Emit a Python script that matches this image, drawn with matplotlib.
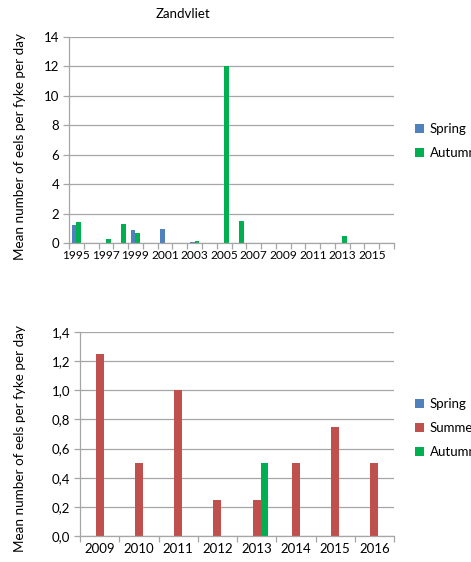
import matplotlib
matplotlib.use('Agg')
import matplotlib.pyplot as plt
import numpy as np
from matplotlib.ticker import FuncFormatter

# Zandvliet fyke catches, 1995-2016
years_top = list(range(1995, 2017))
spring_top = [1.2, 0, 0, 0, 0.9, 0, 0.95, 0, 0.1, 0, 0, 0, 0, 0, 0, 0, 0, 0, 0, 0, 0, 0]
autumn_top = [1.45, 0, 0.3, 1.3, 0.65, 0, 0, 0, 0.15, 0, 12.0, 1.5, 0, 0, 0, 0, 0, 0, 0.45, 0, 0, 0]

# second site, 2009-2016
years_bot = list(range(2009, 2017))
spring_bot = [0, 0, 0, 0, 0, 0, 0, 0]
summer_bot = [1.25, 0.5, 1.0, 0.25, 0.25, 0.5, 0.75, 0.5]
autumn_bot = [0, 0, 0, 0, 0.5, 0, 0, 0]

c_spring = '#4F81BD'
c_summer = '#C0504D'
c_autumn = '#00B050'
grid_c = '#A6A6A6'

plt.rcParams['font.family'] = ['Lato', 'DejaVu Sans']
plt.rcParams['font.size'] = 9

W, H = 471, 562
fig = plt.figure(figsize=(W / 100, H / 100), dpi=100)


def px_axes(left, top, right, bottom):
    return fig.add_axes([left / W, 1 - bottom / H, (right - left) / W, (bottom - top) / H])


def style(ax, ncat):
    for s in ['top', 'right']:
        ax.spines[s].set_visible(False)
    for s in ['left', 'bottom']:
        ax.spines[s].set_color(grid_c)
        ax.spines[s].set_linewidth(0.9)
    ax.set_axisbelow(True)
    ax.yaxis.grid(True, color=grid_c, linewidth=0.9)
    ax.set_xlim(-0.5, ncat - 0.5)
    ax.set_xticks(np.arange(-0.5, ncat, 1.0), minor=True)
    ax.tick_params(axis='x', which='minor', length=4, color=grid_c, width=0.9)
    ax.tick_params(axis='x', which='major', length=0, pad=5, labelcolor='black')
    ax.tick_params(axis='y', length=4, color=grid_c, width=0.9, labelcolor='black', pad=3)


# top chart
ax1 = px_axes(69, 37, 394, 243)
x = np.arange(len(years_top))
b = 0.33
ax1.bar(x - b / 2, spring_top, b, color=c_spring, label='Spring')
ax1.bar(x + b / 2, autumn_top, b, color=c_autumn, label='Autumn')
style(ax1, len(years_top))
ax1.set_ylim(0, 14)
ax1.set_yticks(np.arange(0, 15, 2))
ax1.set_xticks(x[::2])
ax1.set_xticklabels([str(y) for y in years_top[::2]], fontsize=8.6)
ax1.tick_params(axis='y', labelsize=9.5)
ax1.legend(loc='upper left', bbox_to_anchor=(415 / W, 1 - 123 / H), bbox_transform=fig.transFigure,
           frameon=False, handlelength=0.7, handleheight=0.7, handletextpad=0.4,
           labelspacing=0.9, fontsize=9.5, borderpad=0, borderaxespad=0)
fig.text(183 / W, 1 - 14 / H, 'Zandvliet', ha='center', va='center', fontsize=9.5)
fig.text(20 / W, 1 - 147 / H, 'Mean number of eels per fyke per day', rotation=90,
         ha='center', va='center', fontsize=9.7)

# bottom chart
ax2 = px_axes(80, 332, 394, 536)
x2 = np.arange(len(years_bot))
b2 = 0.2
ax2.bar(x2 - b2, spring_bot, b2, color=c_spring, label='Spring')
ax2.bar(x2, summer_bot, b2, color=c_summer, label='Summer')
ax2.bar(x2 + b2, autumn_bot, b2, color=c_autumn, label='Autumn')
style(ax2, len(years_bot))
ax2.set_ylim(0, 1.4)
ax2.set_yticks(np.arange(0, 1.41, 0.2))
ax2.yaxis.set_major_formatter(FuncFormatter(lambda v, p: ('%.1f' % v).replace('.', ',')))
ax2.set_xticks(x2)
ax2.set_xticklabels([str(y) for y in years_bot], fontsize=9.5)
ax2.tick_params(axis='y', labelsize=9.5)
ax2.legend(loc='upper left', bbox_to_anchor=(415 / W, 1 - 398 / H), bbox_transform=fig.transFigure,
           frameon=False, handlelength=0.7, handleheight=0.7, handletextpad=0.4,
           labelspacing=0.9, fontsize=9.5, borderpad=0, borderaxespad=0)
fig.text(20 / W, 1 - 438 / H, 'Mean number of eels per fyke per day', rotation=90,
         ha='center', va='center', fontsize=9.7)

plt.savefig('out.png', dpi=100)
